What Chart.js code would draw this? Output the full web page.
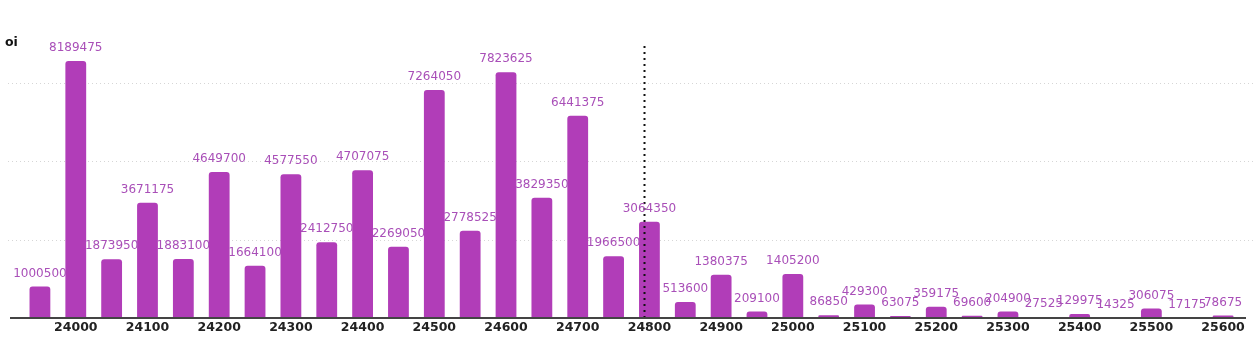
<!DOCTYPE html>
<html>
<head>
<meta charset="utf-8">
<script src="https://cdn.jsdelivr.net/npm/chart.js@4/dist/chart.umd.min.js"></script>
<style>
  html, body { margin: 0; padding: 0; background: #fff; }
  #wrap { width: 1254px; height: 340px; }
</style>
</head>
<body>
<div id="wrap"><canvas id="oiChart" width="1254" height="340"></canvas></div>
<script>
const strikes = [
  23950, 24000, 24050, 24100, 24150, 24200, 24250, 24300, 24350, 24400,
  24450, 24500, 24550, 24600, 24650, 24700, 24750, 24800, 24850, 24900,
  24950, 25000, 25050, 25100, 25150, 25200, 25250, 25300, 25350, 25400,
  25450, 25500, 25550, 25600
];
const oiValues = [
  1000500, 8189475, 1873950, 3671175, 1883100, 4649700, 1664100, 4577550, 2412750, 4707075,
  2269050, 7264050, 2778525, 7823625, 3829350, 6441375, 1966500, 3064350, 513600, 1380375,
  209100, 1405200, 86850, 429300, 63075, 359175, 69600, 204900, 27525, 129975,
  14325, 306075, 17175, 78675
];
const gridValues = [2500000, 5000000, 7500000];
const spotPrice = 24793;
const axisTitle = "oi";

const barColor = "#b13db8";
const labelColor = "#a94fb8";

// dotted grid + base line across the full width, spot marker and value labels
const decorations = {
  id: "decorations",
  beforeDatasetsDraw(chart) {
    const { ctx, scales: { y }, width } = chart;
    ctx.save();
    ctx.strokeStyle = "#d6d6d6";
    ctx.lineWidth = 1;
    ctx.setLineDash([1, 3]);
    gridValues.forEach(v => {
      const py = Math.round(y.getPixelForValue(v)) + 0.5;
      ctx.beginPath();
      ctx.moveTo(8, py);
      ctx.lineTo(width, py);
      ctx.stroke();
    });
    ctx.restore();
  },
  afterDatasetsDraw(chart) {
    const { ctx, scales: { x, y }, chartArea } = chart;
    ctx.save();

    // spot price marker
    const idx = (spotPrice - strikes[0]) / (strikes[1] - strikes[0]);
    const sx = Math.round(x.getPixelForValue(idx)) + 0.5;
    ctx.strokeStyle = "#111";
    ctx.lineWidth = 2;
    ctx.setLineDash([2, 4]);
    ctx.beginPath();
    ctx.moveTo(sx, chartArea.top - 2);
    ctx.lineTo(sx, chartArea.bottom);
    ctx.stroke();
    ctx.setLineDash([]);

    // base line
    const by = y.getPixelForValue(0);
    ctx.strokeStyle = "#444";
    ctx.lineWidth = 2;
    ctx.beginPath();
    ctx.moveTo(10, by);
    ctx.lineTo(1246, by);
    ctx.stroke();

    // value labels
    ctx.font = "12px 'DejaVu Sans', sans-serif";
    ctx.fillStyle = labelColor;
    ctx.textAlign = "center";
    ctx.textBaseline = "middle";
    chart.getDatasetMeta(0).data.forEach((bar, i) => {
      ctx.fillText(String(oiValues[i]), bar.x, bar.y - 13);
    });

    // axis title
    ctx.font = "bold 12.5px 'DejaVu Sans', sans-serif";
    ctx.fillStyle = "#111";
    ctx.textAlign = "left";
    ctx.fillText(axisTitle, 5, 43);
    ctx.restore();
  }
};

new Chart(document.getElementById("oiChart"), {
  type: "bar",
  data: {
    labels: strikes,
    datasets: [{
      label: "oi",
      data: oiValues,
      backgroundColor: barColor,
      borderRadius: { topLeft: 3, topRight: 3 },
      borderSkipped: "bottom",
      categoryPercentage: 1,
      barPercentage: 0.58
    }]
  },
  options: {
    responsive: false,
    animation: false,
    layout: { padding: { left: 22, right: 13, top: 48, bottom: 3 } },
    plugins: {
      legend: { display: false },
      tooltip: { enabled: false }
    },
    scales: {
      x: {
        grid: { display: false, drawTicks: false },
        border: { display: false },
        ticks: {
          autoSkip: false,
          maxRotation: 0,
          padding: 2,
          color: "#222",
          font: { family: "'DejaVu Sans', sans-serif", size: 12.5, weight: "bold" },
          callback: function (value) {
            const s = strikes[value];
            return s % 100 === 0 ? String(s) : "";
          }
        }
      },
      y: {
        display: false,
        min: 0,
        max: 8600000
      }
    }
  },
  plugins: [decorations]
});
</script>
</body>
</html>
